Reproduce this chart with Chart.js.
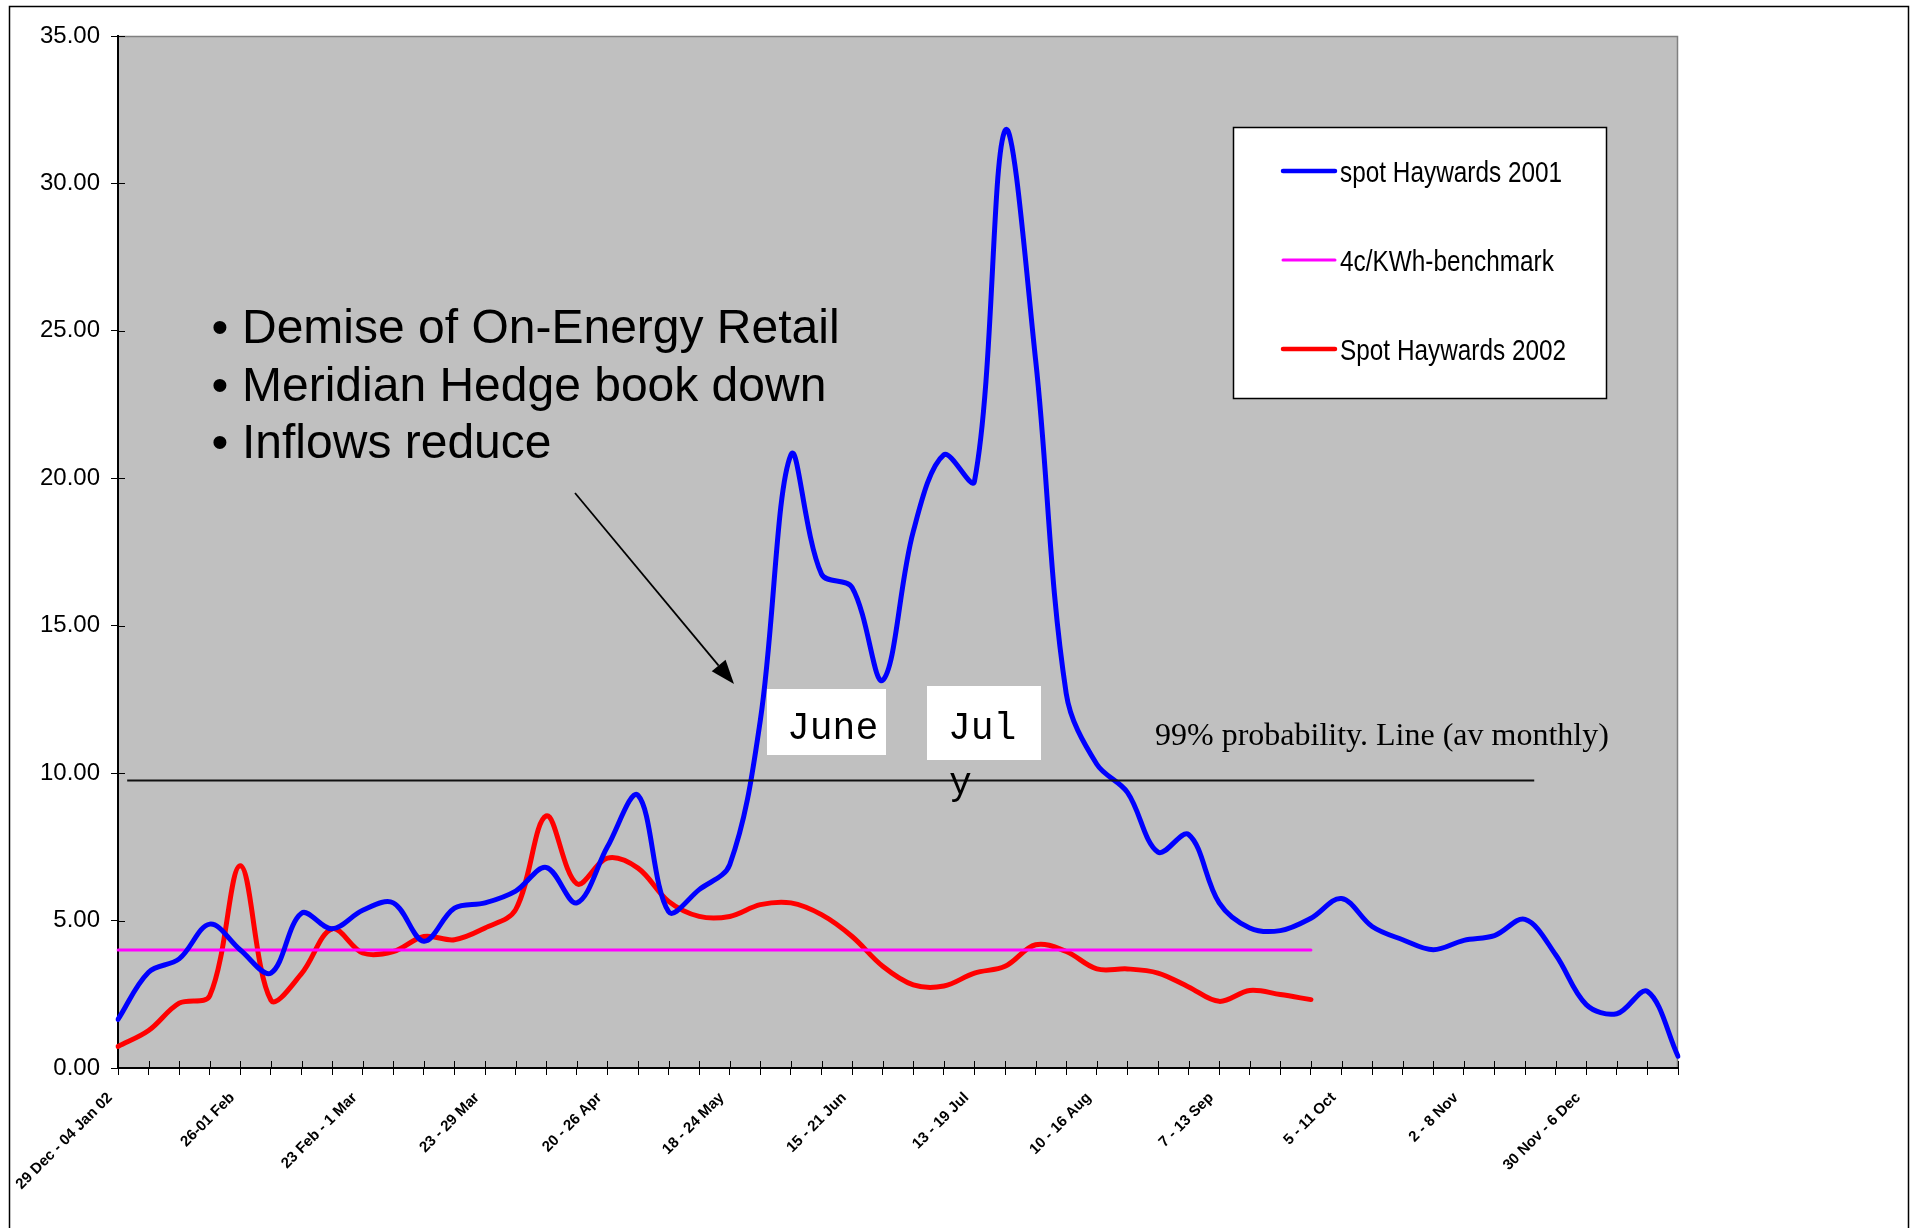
<!DOCTYPE html>
<html>
<head>
<meta charset="utf-8">
<title>Spot Haywards 2001 vs 2002</title>
<script src="https://cdn.jsdelivr.net/npm/chart.js@4.4.1/dist/chart.umd.min.js"></script>
<style>
  html, body { margin: 0; padding: 0; background: #ffffff; }
  canvas { display: block; }
</style>
</head>
<body>
<canvas id="chart" width="1910" height="1228"></canvas>
<script>
// Weekly periods (Saturday to Friday); every fourth week is labelled on the axis.
const weeks = [
  '29 Dec - 04 Jan 02', '5 - 11 Jan', '12 - 18 Jan', '19 - 25 Jan',
  '26-01 Feb', '2 - 8 Feb', '9 - 15 Feb', '16 - 22 Feb',
  '23 Feb - 1 Mar', '2 - 8 Mar', '9 - 15 Mar', '16 - 22 Mar',
  '23 - 29 Mar', '30 Mar - 5 Apr', '6 - 12 Apr', '13 - 19 Apr',
  '20 - 26 Apr', '27 Apr - 3 May', '4 - 10 May', '11 - 17 May',
  '18 - 24 May', '25 - 31 May', '1 - 7 Jun', '8 - 14 Jun',
  '15 - 21 Jun', '22 - 28 Jun', '29 Jun - 5 Jul', '6 - 12 Jul',
  '13 - 19 Jul', '20 - 26 Jul', '27 Jul - 2 Aug', '3 - 9 Aug',
  '10 - 16 Aug', '17 - 23 Aug', '24 - 30 Aug', '31 Aug - 6 Sep',
  '7 - 13 Sep', '14 - 20 Sep', '21 - 27 Sep', '28 Sep - 4 Oct',
  '5 - 11 Oct', '12 - 18 Oct', '19 - 25 Oct', '26 Oct - 1 Nov',
  '2 - 8 Nov', '9 - 15 Nov', '16 - 22 Nov', '23 - 29 Nov',
  '30 Nov - 6 Dec', '7 - 13 Dec', '14 - 20 Dec', '21 - 27 Dec'
];

// Weekly average spot price at Haywards, c/kWh
const spot2001 = [
  1.65, 3.25, 3.70, 4.88, 4.00, 3.22, 5.25, 4.72, 5.35, 5.60,
  4.30, 5.42, 5.60, 6.00, 6.80, 5.60, 7.50, 9.25, 5.30, 6.05,
  6.90, 11.80, 20.80, 16.75, 16.30, 13.15, 18.20, 20.80, 19.90, 31.80,
  24.00, 12.70, 10.30, 9.35, 7.32, 7.92, 5.60, 4.75, 4.66, 5.08,
  5.75, 4.80, 4.35, 4.01, 4.33, 4.49, 5.04, 3.84, 2.15, 1.84,
  2.60, 0.40
];

const benchmark = [
  4, 4, 4, 4, 4, 4, 4, 4, 4, 4,
  4, 4, 4, 4, 4, 4, 4, 4, 4, 4,
  4, 4, 4, 4, 4, 4, 4, 4, 4, 4,
  4, 4, 4, 4, 4, 4, 4, 4, 4, 4
];

const spot2002 = [
  0.73, 1.27, 2.20, 2.45, 6.86, 2.30, 3.20, 4.72, 3.90, 3.95,
  4.46, 4.35, 4.75, 5.37, 8.55, 6.25, 7.12, 6.78, 5.65, 5.14,
  5.14, 5.54, 5.60, 5.20, 4.46, 3.45, 2.82, 2.78, 3.22, 3.45,
  4.18, 3.95, 3.36, 3.36, 3.22, 2.75, 2.26, 2.63, 2.49, 2.32
];

const seriesNames = ['spot Haywards 2001', '4c/KWh-benchmark', 'Spot Haywards 2002'];
const seriesColors = ['#0000FF', '#FF00FF', '#FF0000'];

// 99% probability line (average monthly), drawn across weeks 0.3 .. 46.3
const probabilityLevel = 9.75;
const probabilityFrom = 0.3;
const probabilityTo = 46.3;

const bulletLines = ['Demise of On-Energy Retail', 'Meridian Hedge book down', 'Inflows reduce'];

const SANS = '"Liberation Sans", Arial, Helvetica, sans-serif';
const SERIF = '"Liberation Serif", "Times New Roman", serif';
const MONO = '"Liberation Mono", "Courier New", monospace';
const TICK = 7;

function narrowFontAvailable(ctx) {
  ctx.save();
  ctx.font = '30px "Liberation Sans Narrow", monospace';
  const a = ctx.measureText('spot Haywards 2001').width;
  ctx.font = '30px monospace';
  const b = ctx.measureText('spot Haywards 2001').width;
  ctx.restore();
  return Math.abs(a - b) > 0.5;
}

const decorations = {
  id: 'decorations',
  beforeDraw(chart) {
    const { ctx, chartArea: a } = chart;
    ctx.save();
    ctx.fillStyle = '#C0C0C0';
    ctx.fillRect(a.left, a.top, a.right - a.left, a.bottom - a.top);
    // plot frame (top and right)
    ctx.strokeStyle = '#808080';
    ctx.lineWidth = 1.5;
    ctx.beginPath();
    ctx.moveTo(a.left, a.top + 0.5);
    ctx.lineTo(a.right - 0.5, a.top + 0.5);
    ctx.lineTo(a.right - 0.5, a.bottom);
    ctx.stroke();
    // outer frame
    ctx.strokeStyle = '#000000';
    ctx.lineWidth = 1.5;
    ctx.beginPath();
    ctx.moveTo(9.5, 1228);
    ctx.lineTo(9.5, 6.5);
    ctx.lineTo(1908.5, 6.5);
    ctx.lineTo(1908.5, 1228);
    ctx.stroke();
    ctx.restore();
  },
  afterDraw(chart) {
    const { ctx, chartArea: a, scales } = chart;
    const xs = scales.x, ys = scales.y;
    ctx.save();

    // tick marks crossing into the plot area
    ctx.strokeStyle = '#000000';
    ctx.lineWidth = 1;
    ctx.beginPath();
    for (let i = 0; i < xs.ticks.length; i++) {
      const x = Math.round(xs.getPixelForTick(i)) + 0.5;
      ctx.moveTo(x, a.bottom);
      ctx.lineTo(x, a.bottom - TICK);
    }
    for (let i = 0; i < ys.ticks.length; i++) {
      const y = Math.round(ys.getPixelForTick(i)) + 0.5;
      ctx.moveTo(a.left, y);
      ctx.lineTo(a.left + TICK, y);
    }
    ctx.stroke();

    // 99% probability line
    const py = ys.getPixelForValue(probabilityLevel);
    ctx.strokeStyle = '#111111';
    ctx.lineWidth = 2;
    ctx.beginPath();
    ctx.moveTo(xs.getPixelForValue(probabilityFrom), py);
    ctx.lineTo(xs.getPixelForValue(probabilityTo), py);
    ctx.stroke();

    ctx.fillStyle = '#000000';
    ctx.textAlign = 'left';
    ctx.textBaseline = 'alphabetic';
    ctx.font = '32px ' + SERIF;
    ctx.fillText('99% probability. Line (av monthly)', 1155, 745);

    // bullet notes
    ctx.font = '48px ' + SANS;
    bulletLines.forEach((t, k) => {
      const base = 343 + k * 57.5;
      ctx.textAlign = 'center';
      ctx.fillText('\u2022', 220, base);
      ctx.textAlign = 'left';
      ctx.fillText(t, 242, base);
    });

    // arrow towards June
    const x0 = 575, y0 = 493, x1 = 734, y1 = 684;
    const ang = Math.atan2(y1 - y0, x1 - x0);
    const headLen = 24, headHalf = 9;
    const bx = x1 - headLen * Math.cos(ang), by = y1 - headLen * Math.sin(ang);
    ctx.strokeStyle = '#000000';
    ctx.lineWidth = 1.8;
    ctx.beginPath();
    ctx.moveTo(x0, y0);
    ctx.lineTo(bx, by);
    ctx.stroke();
    ctx.beginPath();
    ctx.moveTo(x1, y1);
    ctx.lineTo(bx + headHalf * Math.sin(ang), by - headHalf * Math.cos(ang));
    ctx.lineTo(bx - headHalf * Math.sin(ang), by + headHalf * Math.cos(ang));
    ctx.closePath();
    ctx.fill();

    // month captions
    ctx.fillStyle = '#ffffff';
    ctx.fillRect(767, 689, 119, 66);
    ctx.fillRect(927, 686, 114, 74);
    ctx.fillStyle = '#000000';
    ctx.font = '38px ' + MONO;
    ctx.textAlign = 'left';
    ctx.fillText('June', 787, 739);
    ctx.fillText('Jul', 948, 739);
    ctx.fillText('y', 949, 794);

    // legend
    ctx.fillStyle = '#ffffff';
    ctx.fillRect(1233, 127, 374, 272);
    ctx.strokeStyle = '#000000';
    ctx.lineWidth = 1.5;
    ctx.strokeRect(1233.5, 127.5, 373, 271);
    const narrow = narrowFontAvailable(ctx);
    const rows = [171, 260, 349];
    chart.data.datasets.forEach((ds, k) => {
      const y = rows[k];
      ctx.strokeStyle = ds.borderColor;
      ctx.lineWidth = ds.borderWidth === 3 ? 3 : 4.5;
      ctx.lineCap = 'round';
      ctx.beginPath();
      ctx.moveTo(1283, y);
      ctx.lineTo(1335, y);
      ctx.stroke();
      ctx.fillStyle = '#000000';
      ctx.textAlign = 'left';
      ctx.textBaseline = 'alphabetic';
      if (narrow) {
        ctx.font = '30px "Liberation Sans Narrow", "Arial Narrow", sans-serif';
        ctx.fillText(ds.label, 1340, y + 11);
      } else {
        ctx.save();
        ctx.translate(1340, y + 11);
        ctx.scale(0.84, 1);
        ctx.font = '29px ' + SANS;
        ctx.fillText(ds.label, 0, 0);
        ctx.restore();
      }
    });

    ctx.restore();
  }
};

new Chart(document.getElementById('chart'), {
  type: 'line',
  data: {
    labels: weeks,
    datasets: [
      { label: seriesNames[0], data: spot2001, borderColor: seriesColors[0], borderWidth: 5, tension: 0.35 },
      { label: seriesNames[1], data: benchmark, borderColor: seriesColors[1], borderWidth: 3, tension: 0 },
      { label: seriesNames[2], data: spot2002, borderColor: seriesColors[2], borderWidth: 5, tension: 0.35 }
    ]
  },
  options: {
    responsive: false,
    animation: false,
    devicePixelRatio: 1,
    layout: { padding: { left: 0, top: 36, right: 232, bottom: 0 } },
    elements: {
      point: { radius: 0, hoverRadius: 0 },
      line: { borderCapStyle: 'round', borderJoinStyle: 'round', fill: false }
    },
    plugins: {
      legend: { display: false },
      tooltip: { enabled: false }
    },
    scales: {
      x: {
        type: 'category',
        offset: false,
        grid: { drawOnChartArea: false, drawTicks: true, tickLength: TICK, color: '#000000', lineWidth: 1 },
        border: { display: true, color: '#000000', width: 2 },
        ticks: {
          autoSkip: false,
          minRotation: 45,
          maxRotation: 45,
          padding: 14,
          labelOffset: -8,
          color: '#000000',
          font: { family: SANS, size: 15, weight: 'bold' },
          callback: (v, i) => (i % 4 === 0 ? weeks[i] : '')
        },
        afterFit(scale) { scale.height = 160; }
      },
      y: {
        min: 0,
        max: 35,
        grid: { drawOnChartArea: false, drawTicks: true, tickLength: TICK, color: '#000000', lineWidth: 1 },
        border: { display: true, color: '#000000', width: 2 },
        ticks: {
          stepSize: 5,
          padding: 11,
          color: '#000000',
          font: { family: SANS, size: 24 },
          callback: v => v.toFixed(2)
        },
        afterFit(scale) { scale.width = 118; }
      }
    }
  },
  plugins: [decorations]
});
</script>
</body>
</html>
